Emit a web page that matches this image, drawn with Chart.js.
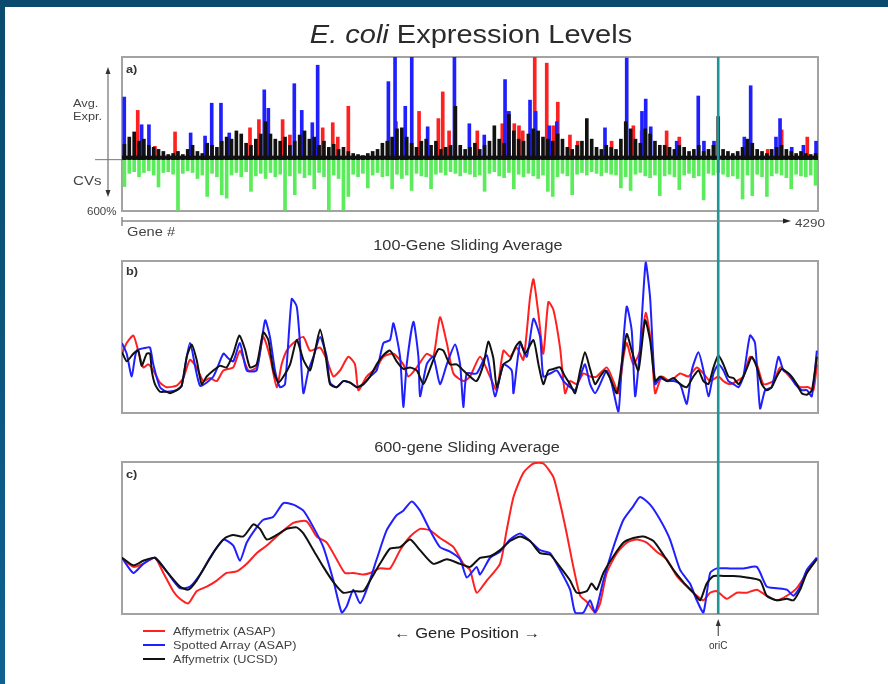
<!DOCTYPE html>
<html>
<head>
<meta charset="utf-8">
<script src="https://cdn.jsdelivr.net/npm/chart.js@4.4.1/dist/chart.umd.min.js"></script>
<style>
html, body { margin: 0; padding: 0; background: #fff; }
#page { position: relative; width: 888px; height: 684px; overflow: hidden; font-family: "Liberation Sans", Arial, sans-serif; color: #333; }
.band-top { position: absolute; left: 0; top: 0; width: 888px; height: 7px; background: #0a4a6d; }
.band-left { position: absolute; left: 0; top: 0; width: 5px; height: 684px; background: linear-gradient(#0a4a6d, #0e6190); }
.panel { position: absolute; left: 0; width: 888px; }
.t { position: absolute; white-space: nowrap; line-height: 1; transform-origin: left center; transform: scaleX(1.16); }
.c { transform-origin: center; transform: translateX(-50%) scaleX(1.16); }
.leg { position: absolute; left: 143px; width: 22px; height: 2px; }
</style>
</head>
<body>
<div id="page">
  <div class="band-top"></div>
  <div class="band-left"></div>

  <div class="panel" style="top:40px;height:200px"><canvas id="chartA"></canvas></div>
  <div class="panel" style="top:240px;height:200px"><canvas id="chartB"></canvas></div>
  <div class="panel" style="top:440px;height:244px"><canvas id="chartC"></canvas></div>

  <div class="t c" style="left:471px;top:22px;font-size:25px;color:#2b2b2b"><i>E. coli</i> Expression Levels</div>
  <div class="t c" style="left:468px;top:238px;font-size:14px">100-Gene Sliding Average</div>
  <div class="t c" style="left:467px;top:440px;font-size:14px">600-gene Sliding Average</div>

  <div class="t" style="left:126px;top:64px;font-size:11px;font-weight:bold">a)</div>
  <div class="t" style="left:126px;top:266px;font-size:11px;font-weight:bold">b)</div>
  <div class="t" style="left:126px;top:469px;font-size:11px;font-weight:bold">c)</div>

  <div class="t" style="left:73px;top:98px;font-size:11px;color:#444">Avg.</div>
  <div class="t" style="left:73px;top:111px;font-size:11px;color:#444">Expr.</div>
  <div class="t" style="left:73px;top:174px;font-size:13px;color:#444">CVs</div>
  <div class="t" style="left:87px;top:206px;font-size:11px;color:#444;transform:scaleX(1.05)">600%</div>
  <div class="t" style="left:127px;top:226px;font-size:12px;color:#444;transform:scaleX(1.22)">Gene #</div>
  <div class="t" style="left:795px;top:218px;font-size:11px;color:#444;transform:scaleX(1.22)">4290</div>

  <div class="leg" style="top:630px;background:#ff2020"></div>
  <div class="leg" style="top:644px;background:#2020ff"></div>
  <div class="leg" style="top:658px;background:#111"></div>
  <div class="t" style="left:173px;top:626px;font-size:11px;color:#444">Affymetrix (ASAP)</div>
  <div class="t" style="left:173px;top:640px;font-size:11px;color:#444">Spotted Array (ASAP)</div>
  <div class="t" style="left:173px;top:654px;font-size:11px;color:#444">Affymetrix (UCSD)</div>

  <div class="t c" style="left:467px;top:625px;font-size:15px;color:#222;transform:translateX(-50%) scaleX(1.1)">&larr; Gene Position &rarr;</div>
</div>

<script>
// ---- data ----
const GENES = 4290
const oriC = 3675          // gene # of the origin of replication
const BIN = 30             // panel a: genes per bin

// panel a, black mass (Affymetrix UCSD), one value per 30-gene bin, % of panel height
const aBlack = [15,22,27,18,20,14,12,10,8,5, 6,8,5,10,14,8,6,16,14,12,
  18,22,20,28,25,16,14,20,25,37, 25,20,18,22,14,18,24,28,20,22,
  14,18,12,15,10,12,8,6,5,4, 6,8,10,16,18,22,30,31,22,16,
  12,18,20,14,18,10,12,14,52,14, 10,12,16,10,14,18,33,20,16,44,
  28,20,18,25,30,28,22,20,18,25, 20,12,10,14,18,40,20,12,10,14,
  12,10,20,37,30,20,16,30,25,18, 14,14,12,10,14,12,8,10,14,8,
  10,14,42,10,8,6,8,12,20,16, 10,8,6,10,12,14,10,8,6,8,
  6,5,6]

// panel a, coefficient of variation (%), same bins
const aCV = [314,160,140,200,150,130,180,320,150,140, 170,590,160,130,150,220,180,430,160,200,
  410,450,180,150,200,140,370,190,160,220, 150,200,170,590,190,410,160,210,180,340,
  150,200,590,180,220,590,430,170,200,160, 330,180,150,200,190,340,170,220,180,360,
  160,190,200,340,170,150,180,140,160,190, 150,170,200,180,370,160,140,190,210,150,
  340,170,200,160,190,220,180,370,430,200, 160,190,410,170,150,180,140,160,190,150,
  170,180,330,200,360,170,150,190,210,180, 420,190,170,200,350,180,160,210,190,470,
  160,180,150,170,200,190,220,460,180,420, 170,200,430,190,160,180,210,340,170,190,
  200,180,300]

// panel a, spikes [gene, height]
const aRed = [[97,48],[203,13],[327,27],[789,31],[844,39],[990,39],[1035,24],[1237,31],[1299,36],[1330,22],
  [1395,52],[1689,37],[1831,47],[1950,40],[1977,66],[2016,28],[2190,28],[2344,35],[2373,47],[2418,35],
  [2447,33],[2470,28],[2544,100],[2618,94],[2659,33],[2686,56],[2761,24],[2809,18],[3018,18],[3152,33],
  [3203,28],[3357,28],[3435,22],[3980,10],[4066,29],[4224,22]]
const aBlue = [[14,61],[121,34],[166,34],[423,26],[512,23],[553,55],[610,55],[661,26],[877,68],[902,50],
  [1062,74],[1108,48],[1173,36],[1206,92],[1642,76],[1683,100],[1746,52],[1786,100],[1884,32],[2049,100],
  [2141,35],[2233,24],[2361,78],[2385,47],[2515,58],[2550,47],[2634,33],[2680,37],[2977,31],[3111,99],
  [3205,47],[3228,59],[3259,32],[3419,18],[3552,62],[3587,18],[3649,18],[3836,22],[3875,72],[4031,22],
  [4056,40],[4128,12],[4200,14],[4278,18]]

// panel b, 100-gene sliding average [gene, value]
const bBlack = [[0,40],[29,34],[70,39],[100,41],[121,31],[152,39],[173,39],[183,28],[203,19],[234,14],[275,14],[296,13],
  [337,15],[368,18],[399,37],[430,45],[460,35],[491,19],[522,24],[563,28],[604,31],[645,30],[686,39],[723,51],
  [758,42],[789,30],[830,32],[871,53],[902,48],[933,28],[964,20],[995,24],[1036,32],[1077,48],[1118,35],[1159,28],
  [1190,41],[1221,55],[1251,41],[1282,19],[1323,17],[1364,21],[1406,20],[1447,17],[1488,19],[1529,24],[1570,32],
  [1611,38],[1652,41],[1693,34],[1734,29],[1776,30],[1817,28],[1858,19],[1888,26],[1919,35],[1950,42],[1981,41],
  [2022,32],[2063,32],[2104,28],[2145,24],[2186,21],[2228,32],[2258,47],[2289,36],[2310,17],[2351,32],[2392,35],
  [2423,43],[2454,47],[2484,39],[2536,48],[2567,32],[2597,19],[2628,28],[2659,29],[2700,30],[2731,24],[2762,19],
  [2793,13],[2824,28],[2854,40],[2885,29],[2916,19],[2947,24],[2978,28],[3008,23],[3050,13],[3080,32],[3111,52],
  [3142,41],[3183,28],[3224,61],[3255,48],[3286,21],[3317,24],[3358,21],[3399,23],[3440,19],[3481,17],[3522,24],
  [3553,28],[3584,21],[3615,19],[3646,30],[3676,38],[3707,32],[3738,24],[3769,23],[3800,19],[3830,24],[3861,32],
  [3882,37],[3913,30],[3943,19],[3974,15],[4005,17],[4036,24],[4067,29],[4098,27],[4128,24],[4159,19],[4190,13],
  [4221,12],[4252,15],[4283,37]]
const bBlue = [[0,46],[29,39],[60,24],[90,41],[152,43],[173,43],[193,32],[234,17],[275,14],[337,15],[368,18],[419,46],
  [481,18],[563,24],[625,39],[655,36],[686,34],[727,46],[769,28],[830,28],[882,61],[912,50],[943,28],[974,17],
  [1005,19],[1046,75],[1077,70],[1097,46],[1118,13],[1149,28],[1180,37],[1221,50],[1262,37],[1282,20],[1323,17],
  [1364,21],[1406,20],[1447,17],[1488,19],[1529,24],[1570,28],[1611,46],[1652,48],[1673,59],[1714,37],[1734,4],
  [1755,32],[1796,60],[1827,37],[1837,11],[1878,32],[1919,37],[1960,19],[2002,32],[2053,45],[2084,32],[2104,4],
  [2125,26],[2186,26],[2248,38],[2299,11],[2351,32],[2402,28],[2413,13],[2454,46],[2495,37],[2536,62],[2577,50],
  [2597,24],[2639,26],[2680,28],[2721,21],[2762,17],[2793,15],[2824,24],[2854,32],[2885,19],[2916,13],[2947,19],
  [2988,28],[3019,19],[3060,1],[3080,32],[3111,70],[3142,54],[3163,11],[3193,43],[3228,99],[3255,76],[3286,19],
  [3317,23],[3358,21],[3399,21],[3440,19],[3481,6],[3512,28],[3553,40],[3584,28],[3615,11],[3646,26],[3676,32],
  [3707,28],[3738,21],[3769,19],[3800,17],[3830,24],[3871,51],[3902,46],[3933,3],[3964,15],[4005,17],[4046,37],
  [4077,28],[4108,26],[4149,19],[4190,15],[4221,15],[4252,11],[4283,41]]
const bRed = [[0,39],[29,46],[70,51],[100,41],[131,30],[162,32],[193,28],[234,20],[275,17],[337,18],[378,23],[419,35],
  [460,30],[501,21],[542,23],[584,21],[625,28],[686,30],[727,41],[779,28],[830,30],[871,50],[912,37],[954,17],
  [984,32],[1015,41],[1056,46],[1118,50],[1159,41],[1221,43],[1262,35],[1303,24],[1344,28],[1395,37],[1436,32],
  [1457,15],[1508,24],[1570,30],[1611,37],[1673,39],[1734,32],[1765,24],[1817,30],[1878,39],[1919,37],[1960,63],
  [2002,46],[2043,26],[2104,21],[2145,24],[2207,37],[2268,24],[2310,15],[2351,41],[2392,37],[2433,43],[2474,35],
  [2515,76],[2536,88],[2567,65],[2597,39],[2628,73],[2659,68],[2700,43],[2731,13],[2762,21],[2803,19],[2844,26],
  [2885,24],[2926,24],[2988,30],[3029,21],[3060,13],[3091,37],[3111,46],[3152,32],[3193,41],[3228,66],[3265,43],
  [3286,13],[3327,24],[3378,21],[3440,26],[3491,24],[3543,30],[3584,26],[3625,21],[3676,24],[3707,21],[3748,19],
  [3789,21],[3830,24],[3871,37],[3913,32],[3954,19],[4015,21],[4057,30],[4098,26],[4139,21],[4180,17],[4231,17],
  [4262,15],[4283,32]]

// panel c, 600-gene sliding average [gene, value]
const cBlack = [[0,37],[70,32],[131,35],[203,37],[275,28],[357,18],[409,16],[460,22],[522,33],[573,42],[635,50],[686,52],
  [748,51],[810,59],[851,56],[892,49],[954,52],[1015,56],[1077,57],[1118,53],[1180,42],[1241,31],[1303,21],[1364,14],
  [1426,15],[1488,15],[1529,22],[1590,33],[1652,43],[1714,44],[1776,49],[1837,42],[1919,33],[2002,36],[2084,33],
  [2145,31],[2207,37],[2269,38],[2330,42],[2392,48],[2454,51],[2515,48],[2577,40],[2639,39],[2700,31],[2762,22],
  [2803,14],[2865,15],[2895,20],[2926,16],[2967,27],[3029,38],[3091,47],[3152,50],[3214,51],[3276,48],[3337,39],
  [3399,29],[3460,21],[3522,14],[3563,9],[3604,20],[3646,25],[3707,25],[3769,25],[3851,24],[3933,22],[3974,12],
  [4036,9],[4098,10],[4139,9],[4180,16],[4221,27],[4283,36]]
const cBlue = [[0,37],[70,27],[131,33],[203,37],[275,28],[357,17],[419,18],[481,26],[542,37],[625,49],[686,45],[727,35],
  [769,47],[830,57],[871,62],[933,64],[995,73],[1056,72],[1118,68],[1180,57],[1241,44],[1303,22],[1354,1],[1385,5],
  [1426,16],[1467,7],[1508,16],[1570,36],[1631,55],[1693,65],[1734,68],[1786,74],[1837,68],[1899,55],[1960,44],
  [2022,41],[2084,36],[2125,24],[2186,31],[2207,26],[2269,37],[2330,41],[2392,49],[2454,53],[2515,48],[2577,42],
  [2639,40],[2700,29],[2762,16],[2793,1],[2844,1],[2885,9],[2916,1],[2967,22],[3029,44],[3091,62],[3152,71],
  [3193,77],[3255,72],[3317,62],[3378,49],[3440,29],[3501,20],[3543,9],[3584,1],[3625,27],[3666,30],[3748,30],
  [3830,30],[3913,31],[3974,18],[4036,17],[4098,16],[4139,12],[4180,18],[4221,29],[4283,37]]
const cRed = [[0,37],[70,31],[131,33],[203,37],[255,27],[316,15],[357,10],[409,7],[460,15],[522,18],[584,22],[645,27],
  [707,28],[769,33],[830,40],[892,45],[974,53],[1056,60],[1138,61],[1200,51],[1262,47],[1323,36],[1374,27],[1426,27],
  [1488,26],[1529,27],[1590,30],[1652,30],[1714,42],[1776,51],[1837,56],[1899,55],[1960,50],[2043,44],[2104,33],
  [2145,29],[2186,14],[2248,22],[2330,33],[2371,55],[2413,77],[2474,93],[2536,99],[2597,99],[2659,90],[2700,73],
  [2741,53],[2782,31],[2824,12],[2865,8],[2916,1],[2947,7],[2988,27],[3050,40],[3111,47],[3173,49],[3234,47],
  [3296,41],[3358,36],[3419,25],[3481,18],[3543,12],[3584,9],[3625,14],[3666,15],[3728,10],[3789,14],[3851,14],
  [3913,16],[3974,12],[4036,9],[4098,12],[4159,17],[4221,27],[4283,37]]

const RED = '#ff2020', BLUE = '#2020ff', BLACK = '#111111', GREEN = '#5aec5a', TEAL = '#1c9696'

const pts = arr => arr.map(p => ({x: p[0], y: p[1]}))
const binned = arr => arr.map((v, i) => ({x: i * BIN + BIN / 2, y: v}))

// grey frame round each plot area
const boxPlugin = {
  id: 'box',
  beforeDatasetsDraw(chart) {
    const a = chart.chartArea, ctx = chart.ctx
    ctx.save()
    ctx.strokeStyle = '#a3a3a3'
    ctx.lineWidth = 2
    ctx.strokeRect(a.left, a.top, a.right - a.left, a.bottom - a.top)
    ctx.restore()
  }
}

// vertical oriC line, carried across the three panels
const oriPlugin = {
  id: 'ori',
  afterDatasetsDraw(chart, args, opts) {
    const a = chart.chartArea, ctx = chart.ctx
    const x = chart.scales.x.getPixelForValue(oriC)
    const y0 = opts.fromArea ? a.top : 0
    const y1 = opts.toArea ? a.bottom : chart.height
    ctx.save()
    ctx.strokeStyle = TEAL
    ctx.lineWidth = 2.6
    ctx.beginPath(); ctx.moveTo(x, y0); ctx.lineTo(x, y1); ctx.stroke()
    if (opts.label) {
      ctx.strokeStyle = '#333'; ctx.fillStyle = '#333'; ctx.lineWidth = 1
      ctx.beginPath(); ctx.moveTo(x, a.bottom + 8); ctx.lineTo(x, a.bottom + 22); ctx.stroke()
      ctx.beginPath(); ctx.moveTo(x, a.bottom + 5); ctx.lineTo(x - 2.5, a.bottom + 12); ctx.lineTo(x + 2.5, a.bottom + 12); ctx.fill()
      ctx.font = '10px "Liberation Sans", Arial, sans-serif'
      ctx.textAlign = 'center'; ctx.textBaseline = 'middle'
      ctx.fillText('oriC', x, a.bottom + 32)
    }
    ctx.restore()
  }
}

// left expression/CV axis, zero line and gene-number axis of panel a
const axesAPlugin = {
  id: 'axesA',
  afterDatasetsDraw(chart) {
    const a = chart.chartArea, ctx = chart.ctx
    const y0 = chart.scales.y.getPixelForValue(0)
    ctx.save()
    ctx.fillStyle = BLACK
    ctx.fillRect(a.left, y0 - 4, a.right - a.left, 4)
    ctx.restore()
  },
  afterDraw(chart) {
    const a = chart.chartArea, ctx = chart.ctx
    const y0 = chart.scales.y.getPixelForValue(0)
    const ax = a.left - 14
    ctx.save()
    ctx.strokeStyle = '#555'; ctx.fillStyle = '#333'; ctx.lineWidth = 1
    ctx.beginPath(); ctx.moveTo(ax, a.top + 14); ctx.lineTo(ax, a.bottom - 18); ctx.stroke()
    ctx.beginPath(); ctx.moveTo(ax, a.top + 10); ctx.lineTo(ax - 2.5, a.top + 17); ctx.lineTo(ax + 2.5, a.top + 17); ctx.fill()
    ctx.beginPath(); ctx.moveTo(ax, a.bottom - 14); ctx.lineTo(ax - 2.5, a.bottom - 21); ctx.lineTo(ax + 2.5, a.bottom - 21); ctx.fill()
    ctx.strokeStyle = '#777'
    ctx.beginPath(); ctx.moveTo(a.left - 27, y0); ctx.lineTo(a.left, y0); ctx.stroke()
    // gene axis
    const gy = a.bottom + 10
    ctx.strokeStyle = '#888'; ctx.lineWidth = 1.5
    ctx.beginPath(); ctx.moveTo(a.left, gy); ctx.lineTo(a.right - 30, gy); ctx.stroke()
    ctx.beginPath(); ctx.moveTo(a.left, gy - 4); ctx.lineTo(a.left, gy + 5); ctx.stroke()
    ctx.fillStyle = '#222'
    ctx.beginPath(); ctx.moveTo(a.right - 27, gy); ctx.lineTo(a.right - 35, gy - 2.5); ctx.lineTo(a.right - 35, gy + 2.5); ctx.fill()
    ctx.restore()
  }
}

const xScale = {type: 'linear', min: 0, max: GENES, offset: false, display: false}
const base = pad => ({
  responsive: true,
  maintainAspectRatio: false,
  animation: false,
  events: [],
  layout: {padding: pad},
  plugins: {legend: {display: false}, tooltip: {enabled: false}}
})

// ---- a) raw expression ----
const optA = base({left: 122, right: 70, top: 17, bottom: 29})
optA.plugins.ori = {fromArea: true, toArea: false}
optA.scales = {
  x: xScale,
  y: {min: -50, max: 100, display: false},
  yCV: {min: -1200, max: 600, reverse: true, display: false}
}
new Chart(document.getElementById('chartA'), {
  type: 'bar',
  data: {datasets: [
    {label: 'Affymetrix (UCSD)', data: binned(aBlack), backgroundColor: BLACK, barThickness: 3, grouped: false, yAxisID: 'y', order: 1},
    {label: 'Spotted Array (ASAP)', data: pts(aBlue), backgroundColor: BLUE, barThickness: 3, grouped: false, yAxisID: 'y', order: 2},
    {label: 'Affymetrix (ASAP)', data: pts(aRed), backgroundColor: RED, barThickness: 3, grouped: false, yAxisID: 'y', order: 3},
    {label: 'CV', data: binned(aCV), backgroundColor: GREEN, barThickness: 3, grouped: false, yAxisID: 'yCV', order: 4}
  ]},
  options: optA,
  plugins: [boxPlugin, axesAPlugin, oriPlugin]
})

// ---- b) / c) sliding averages ----
function lineChart(id, red, blue, black, pad, ori) {
  const opt = base(pad)
  opt.plugins.ori = ori
  opt.scales = {x: xScale, y: {min: 0, max: 100, display: false}}
  opt.elements = {point: {radius: 0}, line: {borderWidth: 2, tension: 0.2}}
  return new Chart(document.getElementById(id), {
    type: 'line',
    data: {datasets: [
      {label: 'Affymetrix (UCSD)', data: pts(black), borderColor: BLACK, order: 1},
      {label: 'Spotted Array (ASAP)', data: pts(blue), borderColor: BLUE, order: 2},
      {label: 'Affymetrix (ASAP)', data: pts(red), borderColor: RED, order: 3}
    ]},
    options: opt,
    plugins: [boxPlugin, oriPlugin]
  })
}
lineChart('chartB', bRed, bBlue, bBlack, {left: 122, right: 70, top: 21, bottom: 27}, {fromArea: false, toArea: false})
lineChart('chartC', cRed, cBlue, cBlack, {left: 122, right: 70, top: 22, bottom: 70}, {fromArea: false, toArea: true, label: true})
</script>
</body>
</html>
